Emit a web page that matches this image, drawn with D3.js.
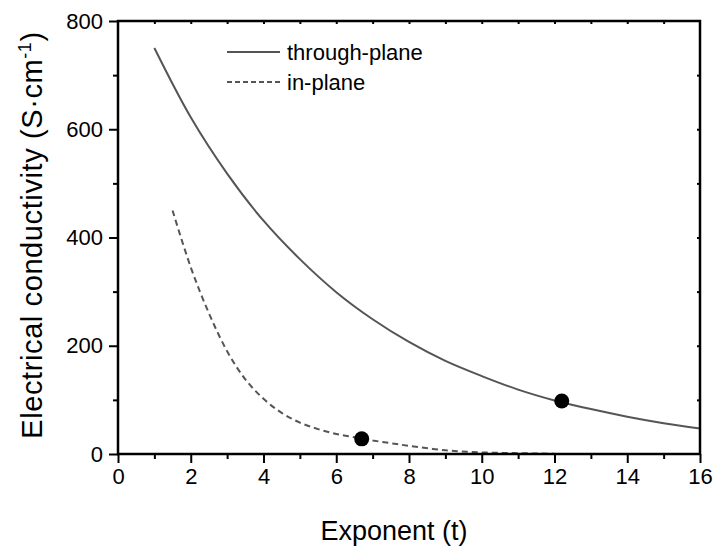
<!DOCTYPE html>
<html>
<head>
<meta charset="utf-8">
<script src="https://cdn.jsdelivr.net/npm/d3@7"></script>
<style>
  body { margin: 0; background: #fff; }
  text { font-family: "Liberation Sans", Arial, sans-serif; fill: #000; }
</style>
</head>
<body>
<div id="wrapper"></div>
<script>
// values
const throughT = [1, 2, 3, 4, 5, 6, 7, 8, 9, 10, 11, 12, 13, 14, 15, 16];
const throughV = [750, 622, 518, 431, 360, 299, 249, 207, 172, 144, 119, 99, 83, 69, 57, 47];

const inT = [1.5, 2, 2.5, 3, 3.5, 4, 4.5, 5, 5.5, 6, 6.5, 7, 7.5, 8, 9, 10, 11, 12];
const inV = [450, 345, 260, 190, 138, 102, 76, 58, 46, 37, 31, 25, 20, 15, 7, 3, 1.5, 0.5];

const markT = [6.7, 12.2];
const markV = [28, 98];

const xMajor = [0, 2, 4, 6, 8, 10, 12, 14, 16];
const xMinor = [1, 3, 5, 7, 9, 11, 13, 15];
const yMajor = [0, 200, 400, 600, 800];
const yMinor = [100, 300, 500, 700];

const legendLabels = ["through-plane", "in-plane"];

const dimensions = {
    width: 716,
    height: 550,
    margin: { top: 21, right: 16, bottom: 96, left: 118 }
};
dimensions.bounded_width = dimensions.width - dimensions.margin.left - dimensions.margin.right;
dimensions.bounded_height = dimensions.height - dimensions.margin.top - dimensions.margin.bottom;

const wrapper = d3.select("#wrapper")
    .append("svg")
    .attr("width", dimensions.width)
    .attr("height", dimensions.height);

const bounds = wrapper.append("g")
    .attr("transform", `translate(${dimensions.margin.left},${dimensions.margin.top})`);

const xScale = d3.scaleLinear()
    .domain([0, 16])
    .range([0, dimensions.bounded_width]);

const yScale = d3.scaleLinear()
    .domain([0, 800])
    .range([dimensions.bounded_height, 0]);

// curves
const line = d3.line()
    .x(d => xScale(d[0]))
    .y(d => yScale(d[1]))
    .curve(d3.curveCatmullRom.alpha(0.5));

bounds.append("path")
    .datum(throughT.map((t, i) => [t, throughV[i]]))
    .attr("d", line)
    .attr("fill", "none")
    .attr("stroke", "#555")
    .attr("stroke-width", 2);

bounds.append("path")
    .datum(inT.map((t, i) => [t, inV[i]]))
    .attr("d", line)
    .attr("fill", "none")
    .attr("stroke", "#555")
    .attr("stroke-width", 2)
    .attr("stroke-dasharray", "6,4");

bounds.selectAll("circle.mark")
    .data(markT.map((t, i) => [t, markV[i]]))
    .join("circle")
    .attr("class", "mark")
    .attr("cx", d => xScale(d[0]))
    .attr("cy", d => yScale(d[1]))
    .attr("r", 7.5)
    .attr("fill", "#000");

// axes
const styleAxis = g => {
    g.select(".domain").remove();
    g.selectAll("line").attr("stroke", "#000").attr("stroke-width", 2);
    g.selectAll("text").style("font-size", "22px").attr("fill", "#000");
};

bounds.append("g")
    .attr("transform", `translate(0,${dimensions.bounded_height})`)
    .call(d3.axisBottom(xScale).tickValues(xMajor).tickSize(9).tickPadding(5).tickFormat(d3.format("d")))
    .call(styleAxis);

bounds.append("g")
    .attr("transform", `translate(0,${dimensions.bounded_height})`)
    .call(d3.axisBottom(xScale).tickValues(xMinor).tickSize(5).tickFormat(""))
    .call(styleAxis);

bounds.append("g")
    .call(d3.axisLeft(yScale).tickValues(yMajor).tickSize(9).tickPadding(6).tickFormat(d3.format("d")))
    .call(styleAxis);

bounds.append("g")
    .call(d3.axisLeft(yScale).tickValues(yMinor).tickSize(5).tickFormat(""))
    .call(styleAxis);

// small inward ticks on top and right
bounds.append("g")
    .call(d3.axisBottom(xScale).tickValues(d3.range(1, 16)).tickSize(3).tickFormat(""))
    .call(styleAxis);

bounds.append("g")
    .attr("transform", `translate(${dimensions.bounded_width},0)`)
    .call(d3.axisLeft(yScale).tickValues(d3.range(100, 800, 100)).tickSize(3).tickFormat(""))
    .call(styleAxis);

bounds.append("rect")
    .attr("width", dimensions.bounded_width)
    .attr("height", dimensions.bounded_height)
    .attr("fill", "none")
    .attr("stroke", "#000")
    .attr("stroke-width", 2.5);

// axis titles
wrapper.append("text")
    .attr("x", 394)
    .attr("y", 540)
    .attr("text-anchor", "middle")
    .style("font-size", "27px")
    .text("Exponent (t)");

const yLabel = wrapper.append("text")
    .attr("transform", "translate(42,235) rotate(-90)")
    .attr("text-anchor", "middle")
    .style("font-size", "29px")
    .style("letter-spacing", "0.6px");
yLabel.append("tspan").text("Electrical conductivity (S·cm");
yLabel.append("tspan").attr("dy", -11).style("font-size", "18px").text("-1");
yLabel.append("tspan").attr("dy", 11).text(")");

// legend
const legend = bounds.append("g")
    .attr("transform", `translate(${227 - dimensions.margin.left},${52 - dimensions.margin.top})`);

legend.selectAll("line")
    .data(legendLabels)
    .join("line")
    .attr("x1", 0)
    .attr("x2", 53)
    .attr("y1", (d, i) => i * 30)
    .attr("y2", (d, i) => i * 30)
    .attr("stroke", "#555")
    .attr("stroke-width", 2)
    .attr("stroke-dasharray", (d, i) => i === 1 ? "5,3" : null);

legend.selectAll("text")
    .data(legendLabels)
    .join("text")
    .attr("x", 60)
    .attr("y", (d, i) => i * 30 + 8)
    .style("font-size", "22px")
    .text(d => d);
</script>
</body>
</html>
